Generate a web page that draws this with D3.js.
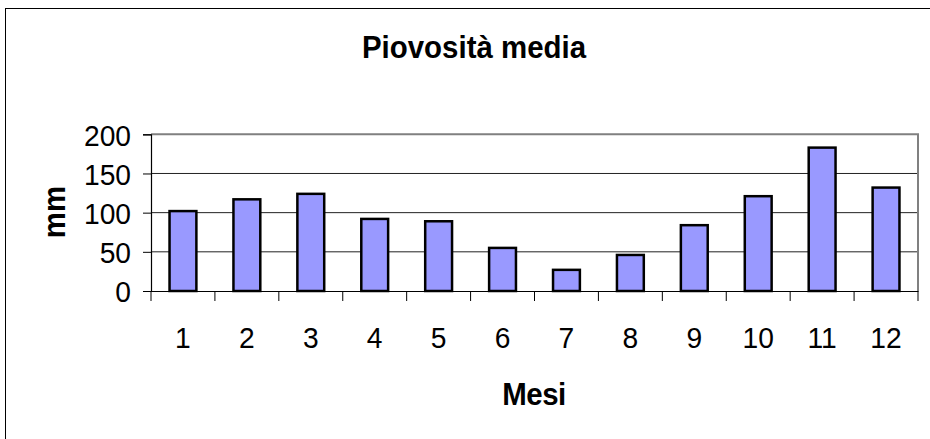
<!DOCTYPE html>
<html>
<head>
<meta charset="utf-8">
<script src="https://cdn.jsdelivr.net/npm/d3@7"></script>
<style>
  html, body { margin: 0; padding: 0; background: #fff; }
  svg { display: block; }
  text { font-family: "Liberation Sans", Arial, sans-serif; fill: #000; }
</style>
</head>
<body>
<svg id="chart" width="930" height="439"></svg>
<script>
const months = ["1","2","3","4","5","6","7","8","9","10","11","12"];
const rainfall = [102, 117, 124, 92, 89, 55, 27, 46, 84, 121, 183, 132];
const yTicks = [0, 50, 100, 150, 200];
const titleText = "Piovosità media";
const xTitle = "Mesi";
const yTitle = "mm";

const svg = d3.select("#chart");
const plot = { left: 151, right: 918, top: 134.3, bottom: 291 };
const SX = 0.94;

// outer chart border
svg.append("rect")
  .attr("x", 5.5).attr("y", 8.5)
  .attr("width", 960).attr("height", 460)
  .attr("fill", "#fff").attr("stroke", "#000").attr("stroke-width", 1);

const x = d3.scaleBand().domain(months).range([plot.left, plot.right]).paddingInner(0).paddingOuter(0);
const y = d3.scaleLinear().domain([0, 200]).range([plot.bottom, plot.top]);

// gridlines
svg.append("g").selectAll("line")
  .data(yTicks.filter(d => d > 0 && d < 200))
  .join("line")
  .attr("x1", plot.left).attr("x2", plot.right)
  .attr("y1", d => y(d)).attr("y2", d => y(d))
  .attr("stroke", "#222").attr("stroke-width", 1);

// plot border (top & right) grey
svg.append("path")
  .attr("d", `M${plot.left},${plot.top}H${plot.right}V${plot.bottom}`)
  .attr("fill", "none").attr("stroke", "#808080").attr("stroke-width", 2);

// bars
const bw = x.bandwidth() * 0.42;
svg.append("g").selectAll("rect")
  .data(rainfall)
  .join("rect")
  .attr("x", (d, i) => x(months[i]) + x.bandwidth() / 2 - bw / 2)
  .attr("y", d => y(d))
  .attr("width", bw)
  .attr("height", d => y(0) - y(d))
  .attr("fill", "#9999FF")
  .attr("stroke", "#000")
  .attr("stroke-width", 2.5);

// y axis
const yAxis = d3.axisLeft(y).tickValues(yTicks).tickSize(8).tickPadding(12).tickFormat(d3.format("d"));
const gy = svg.append("g").attr("transform", `translate(${plot.left},0)`).call(yAxis);
gy.select(".domain").attr("stroke", "#000").attr("stroke-width", 1.2);
gy.selectAll(".tick line").attr("stroke", "#000");
gy.selectAll(".tick text")
  .attr("font-size", 30).attr("font-family", "Liberation Sans, Arial, sans-serif")
  .attr("fill", "#000").attr("dy", "0.36em")
  .attr("x", -20 / SX)
  .attr("transform", `scale(${SX},1)`);

// x axis
const xAxis = d3.axisBottom(x).tickSize(0).tickPadding(0);
const gx = svg.append("g").attr("transform", `translate(0,${plot.bottom})`).call(xAxis);
gx.select(".domain").attr("stroke", "#000").attr("stroke-width", 1.2);
gx.selectAll(".tick text")
  .attr("font-size", 30).attr("font-family", "Liberation Sans, Arial, sans-serif")
  .attr("fill", "#000").attr("y", 57).attr("dy", 0)
  .attr("transform", `scale(${SX},1)`);
// category boundary ticks
const bounds = months.map(m => x(m)).concat([plot.right]);
svg.append("g").selectAll("line")
  .data(bounds)
  .join("line")
  .attr("x1", d => d).attr("x2", d => d)
  .attr("y1", plot.bottom).attr("y2", plot.bottom + 10)
  .attr("stroke", "#000").attr("stroke-width", 1);

// title
svg.append("text")
  .attr("transform", "translate(474,58) scale(0.95,1)")
  .attr("text-anchor", "middle")
  .attr("font-size", 31).attr("font-weight", "bold")
  .text(titleText);

// x title
svg.append("text")
  .attr("transform", "translate(534,405) scale(0.95,1)")
  .attr("text-anchor", "middle")
  .attr("font-size", 31).attr("font-weight", "bold")
  .attr("letter-spacing", -0.5)
  .text(xTitle);

// y title
svg.append("text")
  .attr("transform", "translate(65,212) rotate(-90) scale(0.95,1)")
  .attr("text-anchor", "middle")
  .attr("font-size", 31).attr("font-weight", "bold")
  .text(yTitle);
</script>
</body>
</html>
